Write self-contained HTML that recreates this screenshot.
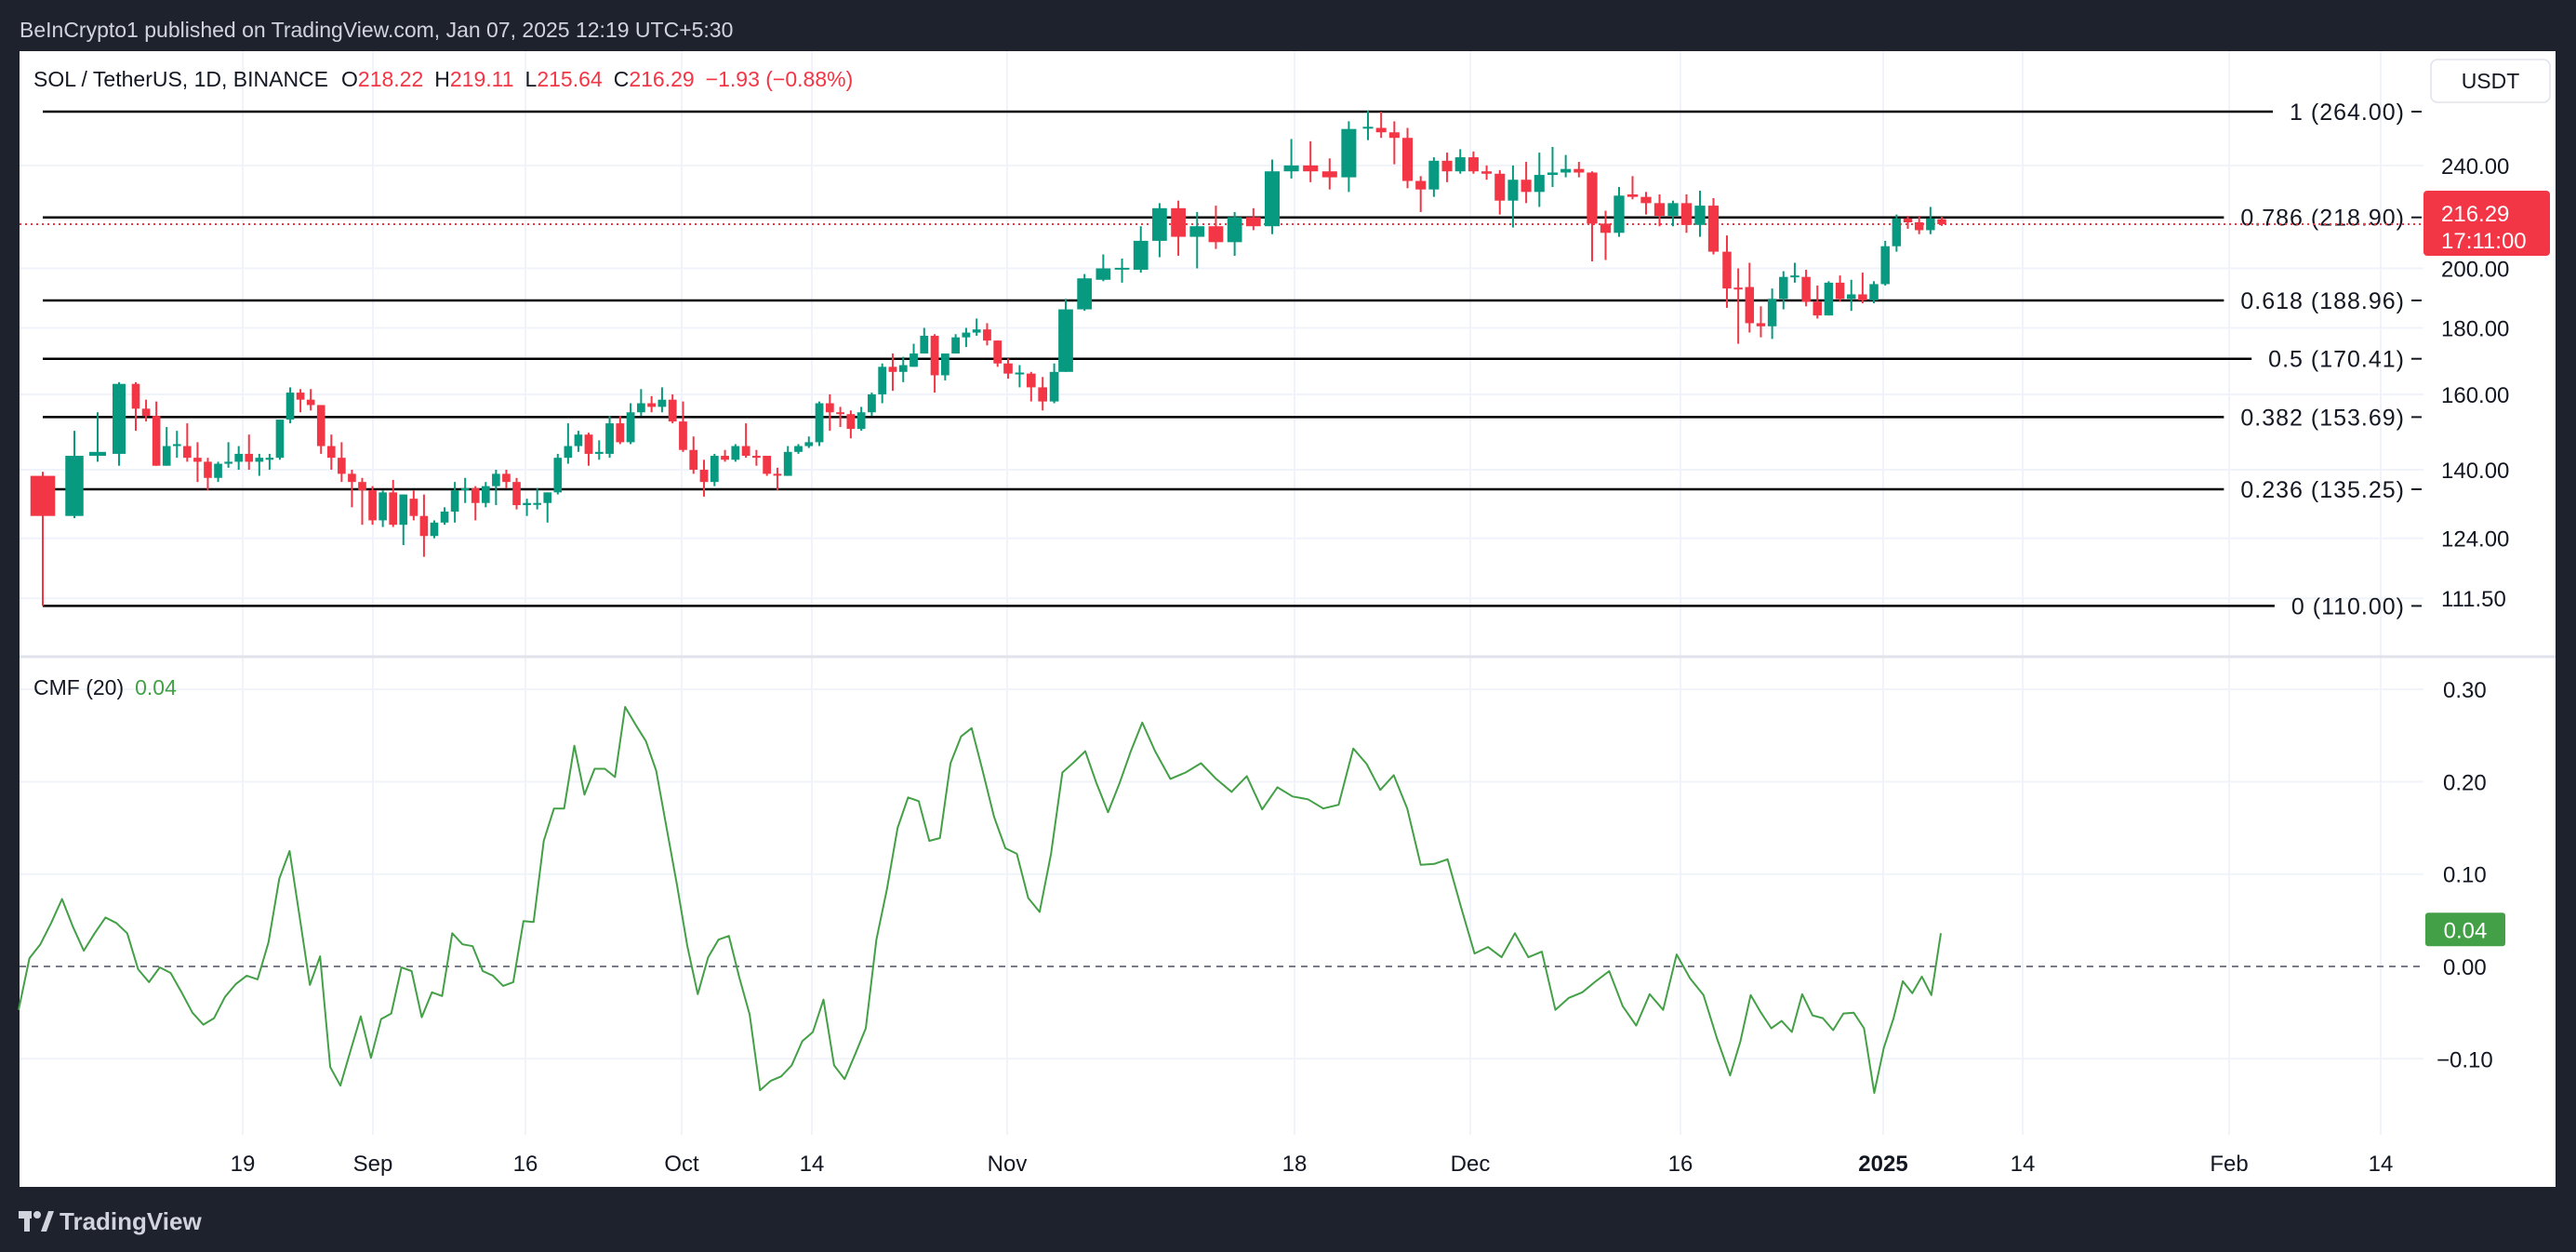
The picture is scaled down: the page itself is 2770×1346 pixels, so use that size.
<!DOCTYPE html>
<html><head><meta charset="utf-8"><style>
html,body{margin:0;padding:0;background:#1e222d;}
svg{display:block;font-family:"Liberation Sans",Arial,sans-serif;}
</style></head><body>
<svg id="c" width="2770" height="1346" viewBox="0 0 2770 1346" xmlns="http://www.w3.org/2000/svg">
<rect x="0" y="0" width="2770" height="1346" fill="#1e222d"/>
<text x="21" y="40" font-size="23" fill="#d1d4dc">BeInCrypto1 published on TradingView.com, Jan 07, 2025 12:19 UTC+5:30</text>
<rect x="21" y="55" width="2727" height="1221" fill="#ffffff"/>
<g id="grid"></g>
<g id="fib"></g>
<g id="candles"></g>
<g id="cmf"></g>
<g id="axes"></g>
<line x1="21" y1="706" x2="2748" y2="706" stroke="#e0e3eb" stroke-width="3"/>
<text x="36" y="93" font-size="23" fill="#131722">SOL / TetherUS, 1D, BINANCE<tspan dx="14">O</tspan><tspan fill="#f23645">218.22</tspan><tspan dx="12">H</tspan><tspan fill="#f23645">219.11</tspan><tspan dx="12">L</tspan><tspan fill="#f23645">215.64</tspan><tspan dx="12">C</tspan><tspan fill="#f23645">216.29</tspan><tspan dx="12" fill="#f23645">−1.93 (−0.88%)</tspan></text>
<rect x="2614" y="64" width="128" height="46" rx="7" fill="#fff" stroke="#e0e3eb" stroke-width="1.5"/>
<text x="2678" y="95" font-size="23" fill="#131722" text-anchor="middle">USDT</text>
<text x="36" y="747" font-size="23" fill="#131722">CMF (20)<tspan dx="12" fill="#43a047">0.04</tspan></text>
<g>
<rect x="20" y="1302" width="14" height="8" fill="#d1d4dc"/>
<rect x="26" y="1302" width="6" height="22" fill="#d1d4dc"/>
<circle cx="40" cy="1306" r="4" fill="#d1d4dc"/>
<polygon points="44,1324 52,1302 58,1302 50,1324" fill="#d1d4dc"/>
<text x="64" y="1322" font-size="26" fill="#d1d4dc" font-weight="bold">TradingView</text>
</g>
</svg>
<script>
const opens=[138.5,129,143.5,144,163,156,154,141,146,146,143,142,138,141.5,142,144,142,142.5,143,153,160.5,158.5,157,146,143,139,137,135,128,134.5,127,133,129,124.5,127.5,130,135,135.5,132,136,139,137,131.5,131.8,132,134.5,143,146,149,144,144,152,147,155,157.5,156.5,158.5,152.5,145,140,137,143.5,142.5,146,143.5,143.5,139,138.5,144.5,146,147,157.5,155,154.5,150.5,155,160,168,166.5,168,172,177.5,165.5,172,177,178.5,179.5,176,169,166,166,162,158,166.5,186,196,199.8,199.5,210,222.5,211.5,215.5,209.5,219,215.5,237.5,240,237.5,235,256.5,256.5,254.5,252,233.5,230,242,237.5,243.5,237.5,236.5,225.5,234,229,236,237,238.5,237,216.5,213,228,227,224.5,219.5,224.5,216,223.5,206,193.3,193.5,181.5,180.5,189.5,197,197,188.5,184,195,189.5,191,189,194.5,208,218.5,217,214,218.22];
const highs=[139.5,150,155,163.5,163.5,158.5,158,151,150,152,147,143,142,147,146,149,144,144,153,162,161.5,161.5,157,149,147,140,138,136,135,137.5,134,135,134,128,131,137,138,136,137,140,140,138,133,135.5,134.5,144,152,150,149.5,147.5,154,154,157.5,161.5,159.5,162,160,158,148.5,142.5,144,145,146.5,152,145,143.5,140.5,146,146.5,148.5,158,160,156.5,155.5,156.5,160.5,169,172,171,175,180,178,172,178,180,183,181.5,176,170.5,168.5,166.5,165,169,189.5,198,205,203.5,215.5,224.5,225.5,221,223.5,221,222.5,242.5,251.5,250.5,243,259.5,264.5,264,259.5,256.5,235.5,243.5,245.5,247,246,240,238,240,241.5,245.5,248,244.5,241.5,237.5,221.5,231,235.5,229,228,225.5,228,229.5,226.5,212,200,202,187,193,199,202,199.5,194,195.5,197.5,196,198.5,195.5,210,220,219.5,219.5,223,219.11];
const lows=[110,128.5,142,141,150,152.5,141,141,143,142,137,135,137,140.5,140,140,138.5,140,142.5,152,155,155.5,144,140,137,131,127,127,126.5,126.5,122.5,128,120,124,127,127.5,132,128,131,131.5,135.5,130.5,129,130.5,127.5,134,141.5,144.5,141,142.5,143,146.5,146.5,154,155,155,152,144.5,139,133.5,136,142,142,143,141,138.5,135,138.5,144,145.5,146,150,151,148,150,154,157.5,161,163.5,168,172,160.5,164,172,174,177.5,174.5,168,164.5,162,158,155.5,157.5,166.5,185.5,195.5,195,198.5,204,204.5,200,207,204.5,214,212.5,234.5,233,230,229,251,252,240.5,230.5,221,227,233,236.5,236.5,234,220,215,224.5,223,231,235,235,202.5,203,211.5,226,220,215.5,215.5,213,211.5,205,186.5,175,178.5,177,176.5,186,195,187,183,184,188.5,185.5,188,188,194,206,214.5,212.5,212.5,215.64];
const closes=[129,143.5,144.5,163,156,154,141,146,146.5,143,142,138,141.5,142,144,142,143,143,153,160.5,158.5,157,146,143,139,137,135,128,134.5,127,134,129,124.5,127.5,130,135,135.5,132,136,139,137,131.5,132,132,134.5,143,146,149,144,144.5,152,147,155,157.5,156.5,158.5,152.5,145,140,137,143.5,142.5,146,143.5,143,139,138.8,144.5,146,147,157.5,155,154.5,150.5,155,160,168,166.5,168.5,172,177.5,165.5,172,177,178.5,179.5,176,169,166,166.3,162,158,166.5,186,196.5,200,200.2,210,222.5,211.5,215.5,209.5,219,215.5,237.5,240,237.5,235,256,257,254.5,252,233.5,230,242,237.5,243.5,237.5,236.5,225.5,234,229,236,237,238.5,237,216.5,213,227.5,227,224.5,219.5,224.5,216,223.5,206,193,193,181.5,180.5,189.5,197,197.5,188.5,184,195,189.5,191,189,194.5,208,218.5,217,214,218.5,216.29];
const cmfValues=[-0.047,0.009,0.024,0.047,0.073,0.043,0.017,0.036,0.053,0.047,0.036,-0.003,-0.017,-0.001,-0.007,-0.028,-0.050,-0.063,-0.056,-0.033,-0.019,-0.010,-0.014,0.026,0.095,0.125,0.053,-0.020,0.011,-0.109,-0.129,-0.091,-0.054,-0.099,-0.057,-0.051,-0.001,-0.005,-0.055,-0.028,-0.032,0.036,0.024,0.022,-0.005,-0.010,-0.021,-0.017,0.049,0.048,0.136,0.171,0.171,0.239,0.186,0.214,0.214,0.205,0.281,0.262,0.244,0.212,0.150,0.088,0.022,-0.030,0.010,0.029,0.033,-0.012,-0.052,-0.134,-0.124,-0.119,-0.107,-0.081,-0.071,-0.036,-0.107,-0.122,-0.095,-0.067,0.029,0.084,0.150,0.183,0.179,0.136,0.139,0.220,0.249,0.258,0.212,0.162,0.128,0.122,0.074,0.059,0.122,0.210,0.221,0.233,0.198,0.167,0.198,0.233,0.264,0.233,0.203,0.210,0.220,0.203,0.189,0.206,0.170,0.194,0.184,0.181,0.171,0.175,0.236,0.219,0.191,0.207,0.171,0.110,0.111,0.116,0.064,0.014,0.021,0.010,0.036,0.010,0.016,-0.047,-0.034,-0.028,-0.016,-0.005,-0.043,-0.064,-0.030,-0.047,0.013,-0.013,-0.031,-0.078,-0.118,-0.081,-0.031,-0.050,-0.067,-0.059,-0.071,-0.030,-0.053,-0.056,-0.069,-0.051,-0.050,-0.067,-0.137,-0.088,-0.057,-0.016,-0.029,-0.011,-0.031,0.036];
const fibRatios=["1","0.786","0.618","0.5","0.382","0.236","0"];
const fibPrices=[264.00,218.90,188.96,170.41,153.69,135.25,110.00];
const priceTicks=[240,200,180,160,140,124,111.5];
const cmfTicks=[0.30,0.20,0.10,0.00,-0.10];
const timeLabels=["19","Sep","16","Oct","14","Nov","18","Dec","16","2025","14","Feb","14"];
const lastPrice=216.29;
const lastCmf=0.04;

// axis config
const timeLabelX=[261,401,565,733,873,1083,1392,1581,1807,2025,2175,2397,2560];
const xAnchorIdx=[0,1,2,3,4,48,88,93,104,109,126,136,155];
const xAnchorPx=[46,80,105,128,146,633,1084,1146,1368,1471,1712,1857,2088];
const mAnchorIdx=[0,24,30,58,71,91,106,119,147,161,168];
const mAnchorPx=[20,302,368,676,822,1051,1236,1451,1859,2015,2087];
const NS="http://www.w3.org/2000/svg";
function yP(p){return 120+(Math.log(264)-Math.log(p))*607;}
function yC(v){return 1039-v*993;}
function piece(i,A,P){
  for(let k=0;k<A.length-1;k++){
    if(i<=A[k+1]){const a=A[k],b=A[k+1];return P[k]+(i-a)*(P[k+1]-P[k])/(b-a);}
  }
  return P[P.length-1];
}
function xC(i){return piece(i,xAnchorIdx,xAnchorPx);}
function xM(i){return piece(i*168/(cmfValues.length-1),mAnchorIdx,mAnchorPx);}
function spacing(i){return i<opens.length-1?xC(i+1)-xC(i):xC(i)-xC(i-1);}
function el(tag,attrs,parent){const e=document.createElementNS(NS,tag);for(const k in attrs)e.setAttribute(k,attrs[k]);parent.appendChild(e);return e;}

const grid=document.getElementById('grid');
timeLabels.forEach((t,i)=>{
  const l=el('line',{x1:timeLabelX[i],x2:timeLabelX[i],y1:55,y2:1220,stroke:'#f0f3fa','stroke-width':2},grid);
  
  
});
priceTicks.forEach(p=>{
  const l=el('line',{x1:21,x2:2606,y1:yP(p),y2:yP(p),stroke:'#f0f3fa','stroke-width':2},grid);
  
  
});
cmfTicks.forEach(v=>{
  if(v===0)return;
  const l=el('line',{x1:21,x2:2606,y1:yC(v),y2:yC(v),stroke:'#f0f3fa','stroke-width':2},grid);
  
  
});

const axes=document.getElementById('axes');
priceTicks.forEach(p=>{
  const t=el('text',{x:2625,y:yP(p)+9,'font-size':24,fill:'#131722'},axes);
  t.textContent=p.toFixed(2);
  
  
});
cmfTicks.forEach(v=>{
  const t=el('text',{x:v<0?2620:2627,y:yC(v)+9,'font-size':24,fill:'#131722'},axes);
  t.textContent=(v<0?'−':'')+Math.abs(v).toFixed(2);
  
  
});
timeLabels.forEach((s,i)=>{
  const t=el('text',{x:timeLabelX[i],y:1259,'font-size':24,fill:'#131722','text-anchor':'middle','font-weight':s==='2025'?'bold':'normal'},axes);
  t.textContent=s;
  
  
});

// fib levels
const fib=document.getElementById('fib');
fibPrices.forEach((p,i)=>{
  const y=yP(p);
  const t=el('text',{x:2586,y:y+9,'font-size':25,fill:'#131722','text-anchor':'end','letter-spacing':'1'},fib);
  t.textContent=fibRatios[i]+' ('+p.toFixed(2)+')';
  
  
  let w=t.getComputedTextLength?t.getComputedTextLength():150;
  const ln=el('line',{x1:46,x2:2586-w-18,y1:y,y2:y,stroke:'#000','stroke-width':2.5},fib);
  
  
  const tk=el('line',{x1:2593,x2:2604,y1:y,y2:y,stroke:'#131722','stroke-width':2},fib);
  
  
});

// candles
const cg=document.getElementById('candles');
const pl=el('line',{x1:21,x2:2606,y1:yP(lastPrice),y2:yP(lastPrice),stroke:'#f23645','stroke-width':2,'stroke-dasharray':'2 4'},cg);


opens.forEach((o,i)=>{
  const c=closes[i],h=highs[i],l=lows[i];
  const col=c>=o?'#089981':'#f23645';
  const x=xC(i);const bw=Math.max(6,spacing(i)*0.78);
  const g=el('g',{},cg);
  
  
  const w=el('line',{x1:x,x2:x,y1:yP(h),y2:yP(l),stroke:col,'stroke-width':2},g);
  
  
  const top=yP(Math.max(o,c)),bot=yP(Math.min(o,c));
  const b=el('rect',{x:x-bw/2,y:top,width:bw,height:Math.max(2,bot-top),fill:col},g);
  
  
});
const pb=el('rect',{x:2606,y:yP(lastPrice)-36,width:136,height:70,rx:4,fill:'#f23645'},axes);


const pt=el('text',{x:2625,y:yP(lastPrice)-3,'font-size':24,fill:'#fff'},axes);
pt.textContent=lastPrice.toFixed(2);


const ct=el('text',{x:2625,y:yP(lastPrice)+26,'font-size':24,fill:'#fff'},axes);
ct.textContent='17:11:00';



// CMF
const mg=document.getElementById('cmf');
const zl=el('line',{x1:21,x2:2606,y1:yC(0),y2:yC(0),stroke:'#787b86','stroke-width':2,'stroke-dasharray':'7 6'},mg);


const pts=cmfValues.map((v,i)=>xM(i).toFixed(1)+','+yC(v).toFixed(1)).join(' ');
const pol=el('polyline',{points:pts,fill:'none',stroke:'#43a047','stroke-width':2,'stroke-linejoin':'round'},mg);


const mb=el('rect',{x:2608,y:yC(lastCmf)-18,width:86,height:36,rx:3,fill:'#43a047'},axes);


const mt=el('text',{x:2651,y:yC(lastCmf)+9,'font-size':24,fill:'#fff','text-anchor':'middle'},axes);
mt.textContent=lastCmf.toFixed(2);


</script>
</body></html>
